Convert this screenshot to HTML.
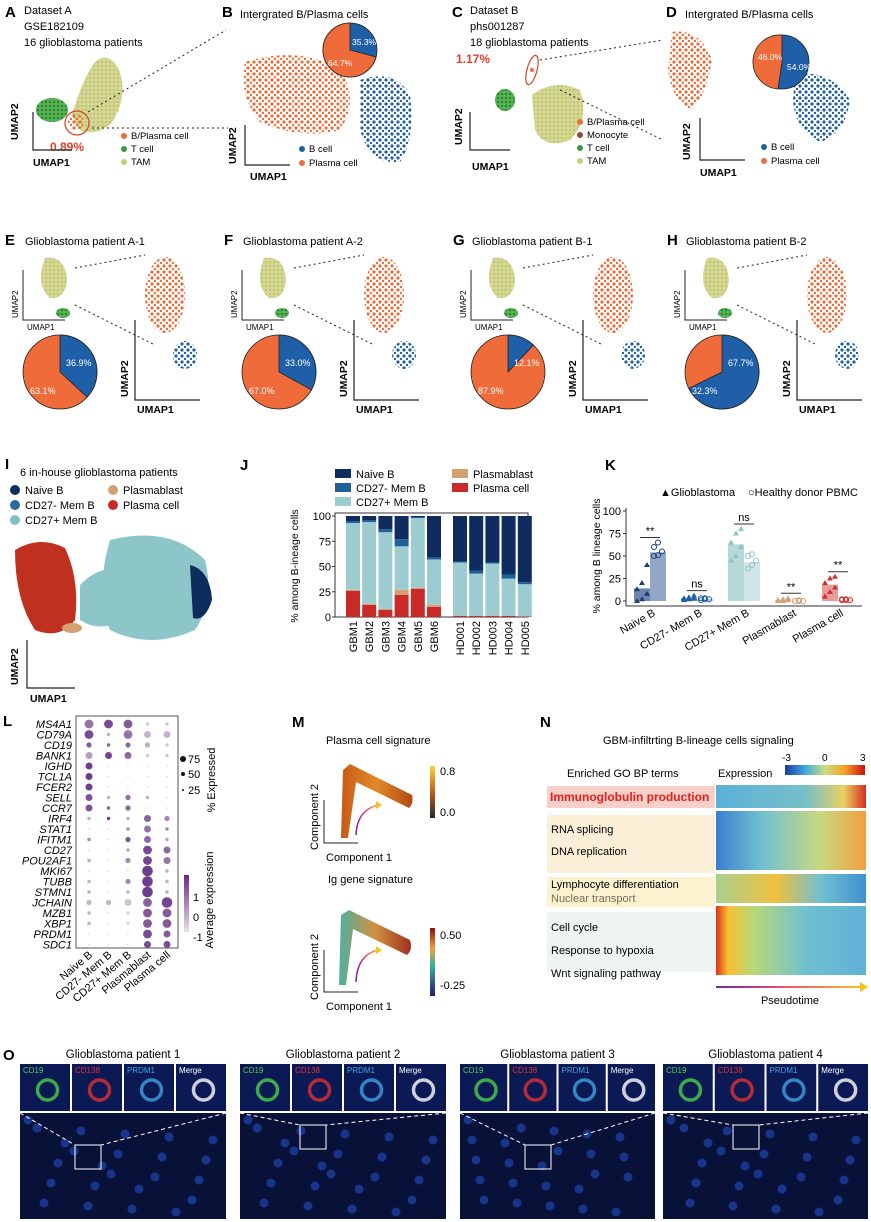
<!DOCTYPE html>
<html><head><meta charset="utf-8">
<style>
html,body{margin:0;padding:0;background:#fff;}
svg{display:block;font-family:"Liberation Sans",Arial,sans-serif;}
</style></head>
<body>
<svg id="fig" width="871" height="1222" viewBox="0 0 871 1222">
<defs>
<pattern id="pO" width="6" height="6" patternUnits="userSpaceOnUse"><circle cx="2" cy="2" r="1.6" fill="#ef6b3a"/><circle cx="5" cy="5" r="1.2" fill="#ef6b3a"/></pattern>
<pattern id="pB" width="6" height="6" patternUnits="userSpaceOnUse"><circle cx="2" cy="2" r="1.6" fill="#1f5fa8"/><circle cx="5" cy="5" r="1.2" fill="#1f5fa8"/></pattern>
<pattern id="pY" width="4" height="4" patternUnits="userSpaceOnUse"><rect width="4" height="4" fill="#d6d89a"/><circle cx="2" cy="2" r="1.3" fill="#c2c66c"/></pattern>
<pattern id="pG" width="4" height="4" patternUnits="userSpaceOnUse"><rect width="4" height="4" fill="#5ab35a"/><circle cx="2" cy="2" r="1.3" fill="#2a8a2a"/></pattern>
<linearGradient id="gOr" x1="0" x2="0" y1="0" y2="1"><stop offset="0" stop-color="#f7d23a"/><stop offset="0.5" stop-color="#c0601a"/><stop offset="1" stop-color="#1e2a28"/></linearGradient>
<linearGradient id="gIg" x1="0" x2="0" y1="0" y2="1"><stop offset="0" stop-color="#8a1010"/><stop offset="0.3" stop-color="#f0a030"/><stop offset="0.55" stop-color="#3ab0a0"/><stop offset="1" stop-color="#2a1a6a"/></linearGradient>
<linearGradient id="gTr" x1="0" x2="1"><stop offset="0" stop-color="#c85a18"/><stop offset="0.5" stop-color="#e08a28"/><stop offset="1" stop-color="#b04a10"/></linearGradient>
<linearGradient id="gTr2" x1="0" x2="1"><stop offset="0" stop-color="#50b0a0"/><stop offset="0.5" stop-color="#d09040"/><stop offset="1" stop-color="#a03020"/></linearGradient>
<linearGradient id="gEx" x1="0" x2="1"><stop offset="0" stop-color="#1a3a9a"/><stop offset="0.25" stop-color="#40a8e0"/><stop offset="0.5" stop-color="#c8e080"/><stop offset="0.75" stop-color="#f8a020"/><stop offset="1" stop-color="#c81010"/></linearGradient>
<linearGradient id="gPt" x1="0" x2="1"><stop offset="0" stop-color="#6a2aa0"/><stop offset="0.4" stop-color="#e84080"/><stop offset="1" stop-color="#f8c020"/></linearGradient>
<linearGradient id="h1" x1="0" x2="1"><stop offset="0" stop-color="#5ab0d8"/><stop offset="0.6" stop-color="#78c0c8"/><stop offset="0.85" stop-color="#e8d060"/><stop offset="1" stop-color="#d83020"/></linearGradient>
<linearGradient id="h2" x1="0" x2="1"><stop offset="0" stop-color="#3a80d0"/><stop offset="0.3" stop-color="#70c0d0"/><stop offset="0.7" stop-color="#c8d880"/><stop offset="1" stop-color="#f0a040"/></linearGradient>
<linearGradient id="h3" x1="0" x2="1"><stop offset="0" stop-color="#a8d090"/><stop offset="0.4" stop-color="#f0c040"/><stop offset="0.7" stop-color="#70c0d0"/><stop offset="1" stop-color="#4090d0"/></linearGradient>
<linearGradient id="h4" x1="0" x2="1"><stop offset="0" stop-color="#e03018"/><stop offset="0.08" stop-color="#f8c030"/><stop offset="0.25" stop-color="#b8d878"/><stop offset="0.6" stop-color="#70c0d0"/><stop offset="1" stop-color="#60b0d8"/></linearGradient>
<linearGradient id="bar" x1="0" x2="0" y1="1" y2="0"><stop offset="0" stop-color="#e8e0ea"/><stop offset="1" stop-color="#6a2a8a"/></linearGradient>
</defs>

<!-- ROW 1 -->
<g>
<text x="5" y="17" font-size="15" font-weight="bold">A</text>
<text font-size="11" x="24" y="14">Dataset A</text><text font-size="11" x="24" y="30">GSE182109</text><text font-size="11" x="24" y="46">16 glioblastoma patients</text>
<ellipse cx="52" cy="110" rx="16" ry="12" fill="url(#pG)"/>
<path d="M72 115 Q82 80 95 62 Q110 50 120 72 Q128 100 110 125 Q90 138 78 128 Z" fill="url(#pY)"/>
<ellipse cx="76" cy="122" rx="8" ry="8" fill="url(#pO)"/>
<ellipse cx="77" cy="123" rx="12" ry="12" fill="none" stroke="#d8402a" stroke-width="1.2"/>
<text x="50" y="151" fill="#e0402a" font-size="12" font-weight="bold">0.89%</text>
<path d="M33 112 V150 H72" fill="none" stroke="#222" stroke-width="1.2"/>
<text x="18" y="140" font-size="10.5" transform="rotate(-90 18 140)" font-weight="bold">UMAP2</text>
<text x="33" y="166" font-size="10.5" font-weight="bold">UMAP1</text>
<circle cx="124" cy="136" r="3" fill="#ef6b3a"/><text font-size="9.5" x="131" y="139">B/Plasma cell</text>
<circle cx="124" cy="149" r="3" fill="#3a9a3a"/><text font-size="9.5" x="131" y="152">T cell</text>
<circle cx="124" cy="162" r="3" fill="#c9cd7e"/><text font-size="9.5" x="131" y="165">TAM</text>
<line x1="88" y1="112" x2="226" y2="30" stroke="#222" stroke-dasharray="2,3"/>
<line x1="92" y1="128" x2="228" y2="128" stroke="#222" stroke-dasharray="2,3"/>
</g>
<g>
<text x="222" y="17" font-size="15" font-weight="bold">B</text>
<text font-size="11" x="240" y="18">Intergrated B/Plasma cells</text>
<path d="M245 62 Q300 45 340 70 Q360 100 340 130 Q300 140 260 122 Q238 95 245 62Z" fill="url(#pO)"/>
<path d="M360 80 Q395 68 410 95 Q415 140 400 162 Q370 165 360 130Z" fill="url(#pB)"/>
<circle cx="350" cy="50" r="27" fill="#1f5fa8" stroke="#222" stroke-width="0.8"/>
<path d="M350 50 V23 A27 27 0 1 0 376 57 Z" fill="#ef6b3a" stroke="#222" stroke-width="0.8"/>
<text x="352" y="45" fill="#fff" font-size="8.5">35.3%</text><text x="328" y="66" fill="#fff" font-size="8.5">64.7%</text>
<path d="M245 125 V165 H290" fill="none" stroke="#222" stroke-width="1.2"/>
<text x="236" y="164" font-size="10.5" transform="rotate(-90 236 164)" font-weight="bold">UMAP2</text>
<text x="250" y="180" font-size="10.5" font-weight="bold">UMAP1</text>
<circle cx="302" cy="149" r="3" fill="#1f5fa8"/><text font-size="9.5" x="309" y="152">B cell</text>
<circle cx="302" cy="163" r="3" fill="#ef6b3a"/><text font-size="9.5" x="309" y="166">Plasma cell</text>
</g>
<g>
<text x="452" y="17" font-size="15" font-weight="bold">C</text>
<text font-size="11" x="470" y="14">Dataset B</text><text font-size="11" x="470" y="30">phs001287</text><text font-size="11" x="470" y="46">18 glioblastoma patients</text>
<text x="456" y="63" fill="#e0402a" font-size="12" font-weight="bold">1.17%</text>
<ellipse cx="532" cy="70" rx="5" ry="15" fill="none" stroke="#d8402a" stroke-width="1.2" transform="rotate(15 532 70)"/>
<circle cx="532" cy="70" r="2" fill="#ef6b3a"/>
<ellipse cx="505" cy="100" rx="10" ry="11" fill="url(#pG)"/>
<path d="M532 95 Q555 78 580 90 Q590 120 570 140 Q545 150 535 130Z" fill="url(#pY)"/>
<path d="M470 112 V150 H510" fill="none" stroke="#222" stroke-width="1.2"/>
<text x="462" y="145" font-size="10.5" transform="rotate(-90 462 145)" font-weight="bold">UMAP2</text>
<text x="472" y="170" font-size="10.5" font-weight="bold">UMAP1</text>
<circle cx="580" cy="122" r="3" fill="#ef6b3a"/><text font-size="9.5" x="587" y="125">B/Plasma cell</text>
<circle cx="580" cy="135" r="3" fill="#8a5030"/><text font-size="9.5" x="587" y="138">Monocyte</text>
<circle cx="580" cy="148" r="3" fill="#3a9a3a"/><text font-size="9.5" x="587" y="151">T cell</text>
<circle cx="580" cy="161" r="3" fill="#c9cd7e"/><text font-size="9.5" x="587" y="164">TAM</text>
<line x1="540" y1="60" x2="663" y2="40" stroke="#222" stroke-dasharray="2,3"/>
<line x1="560" y1="90" x2="663" y2="140" stroke="#222" stroke-dasharray="2,3"/>
</g>
<g>
<text x="666" y="17" font-size="15" font-weight="bold">D</text>
<text font-size="11" x="685" y="18">Intergrated B/Plasma cells</text>
<path d="M672 32 Q700 28 712 60 Q705 100 690 110 Q672 100 668 70Z" fill="url(#pO)"/>
<path d="M795 75 Q830 68 850 100 Q845 135 820 142 Q795 130 793 100Z" fill="url(#pB)"/>
<circle cx="782" cy="62" r="27" fill="#1f5fa8" stroke="#222" stroke-width="0.8"/>
<path d="M782 62 V35 A27 27 0 0 0 778 89 Z" fill="#ef6b3a" stroke="#222" stroke-width="0.8"/>
<text x="758" y="60" fill="#fff" font-size="8.5">46.0%</text><text x="787" y="70" fill="#fff" font-size="8.5">54.0%</text>
<path d="M700 118 V160 H745" fill="none" stroke="#222" stroke-width="1.2"/>
<text x="690" y="160" font-size="10.5" transform="rotate(-90 690 160)" font-weight="bold">UMAP2</text>
<text x="700" y="176" font-size="10.5" font-weight="bold">UMAP1</text>
<circle cx="764" cy="147" r="3" fill="#1f5fa8"/><text font-size="9.5" x="771" y="150">B cell</text>
<circle cx="764" cy="161" r="3" fill="#ef6b3a"/><text font-size="9.5" x="771" y="164">Plasma cell</text>
</g>

<!-- ROW 2 -->
<g id="row2">
<text x="5" y="245" font-size="15" font-weight="bold">E</text><text font-size="11" x="25" y="245">Glioblastoma patient A-1</text>
<text x="224" y="245" font-size="15" font-weight="bold">F</text><text font-size="11" x="243" y="245">Glioblastoma patient A-2</text>
<text x="453" y="245" font-size="15" font-weight="bold">G</text><text font-size="11" x="472" y="245">Glioblastoma patient B-1</text>
<text x="667" y="245" font-size="15" font-weight="bold">H</text><text font-size="11" x="686" y="245">Glioblastoma patient B-2</text>
</g>

<!-- ROW 3 -->
<g>
<text x="5" y="469" font-size="15" font-weight="bold">I</text>
<text font-size="11" x="20" y="476">6 in-house glioblastoma patients</text>
<circle cx="15" cy="490" r="5" fill="#0e2d5e"/><text font-size="11" x="25" y="494">Naive B</text>
<circle cx="113" cy="490" r="5" fill="#d4a070"/><text font-size="11" x="123" y="494">Plasmablast</text>
<circle cx="15" cy="505" r="5" fill="#2a6aa0"/><text font-size="11" x="25" y="509">CD27- Mem B</text>
<circle cx="113" cy="505" r="5" fill="#c82a2a"/><text font-size="11" x="123" y="509">Plasma cell</text>
<circle cx="15" cy="520" r="5" fill="#7fc0c4"/><text font-size="11" x="25" y="524">CD27+ Mem B</text>
<path d="M15 550 Q40 535 65 548 Q80 580 75 620 Q60 640 35 630 Q15 600 15 550Z" fill="#c0301e"/>
<path d="M110 540 Q170 525 205 560 Q215 600 195 630 Q150 650 110 630 Q95 590 110 540Z" fill="#8cc6c8"/>
<path d="M80 585 Q100 565 115 572 L112 625 Q95 630 80 620Z" fill="#8cc6c8"/>
<path d="M190 565 Q210 570 212 600 Q205 622 193 618Z" fill="#0e2d5e"/>
<ellipse cx="72" cy="628" rx="10" ry="5" fill="#d4a070"/>
<path d="M27 640 V688 H75" fill="none" stroke="#222" stroke-width="1.2"/>
<text x="18" y="685" font-size="10.5" transform="rotate(-90 18 685)" font-weight="bold">UMAP2</text>
<text x="30" y="702" font-size="10.5" font-weight="bold">UMAP1</text>
</g>
<g id="panelJ"><text x="240" y="470" font-size="15" font-weight="bold">J</text></g>
<g id="panelK"><text x="605" y="470" font-size="15" font-weight="bold">K</text></g>

<!-- ROW 4 -->
<g id="panelL"><text x="3" y="726" font-size="15" font-weight="bold">L</text></g>

<g>
<text x="292" y="727" font-size="15" font-weight="bold">M</text>
<text font-size="11" x="326" y="744">Plasma cell signature</text>
<path d="M341 838 L343 770 L350 764 L412 795 Q414 803 409 808 L356 782 L348 838Z" fill="url(#gTr)"/>
<path d="M356 835 Q357 810 378 805" fill="none" stroke="url(#gPt)" stroke-width="1.5"/>
<path d="M376 801 L382 805 L376 809Z" fill="#f8c020"/>
<rect x="430" y="766" width="5" height="52" fill="url(#gOr)"/>
<text font-size="11" x="440" y="775">0.8</text><text font-size="11" x="440" y="816">0.0</text>
<path d="M324 800 V843 H358" fill="none" stroke="#222"/>
<text font-size="11" x="318" y="850" transform="rotate(-90 318 850)">Component 2</text>
<text font-size="11" x="326" y="861">Component 1</text>
<text font-size="11" x="328" y="883">Ig gene signature</text>
<path d="M339 985 L341 915 L349 910 L410 940 Q413 950 407 955 L353 929 L346 985Z" fill="url(#gTr2)"/>
<path d="M356 982 Q357 955 378 950" fill="none" stroke="url(#gPt)" stroke-width="1.5"/>
<path d="M376 946 L382 950 L376 954Z" fill="#f8c020"/>
<rect x="430" y="928" width="5" height="68" fill="url(#gIg)"/>
<text font-size="11" x="440" y="939">0.50</text><text font-size="11" x="440" y="989">-0.25</text>
<path d="M324 950 V992 H358" fill="none" stroke="#222"/>
<text font-size="11" x="318" y="1000" transform="rotate(-90 318 1000)">Component 2</text>
<text font-size="11" x="326" y="1010">Component 1</text>
</g>

<g>
<text x="540" y="727" font-size="15" font-weight="bold">N</text>
<text font-size="11" x="603" y="744">GBM-infiltrting B-lineage cells signaling</text>
<text font-size="11" x="567" y="777">Enriched GO BP terms</text>
<text font-size="11" x="718" y="777">Expression</text>
<rect x="785" y="765" width="80" height="10" fill="url(#gEx)"/>
<text font-size="10" x="782" y="761">-3</text><text font-size="10" x="822" y="761">0</text><text font-size="10" x="860" y="761">3</text>
<rect x="547" y="786" width="168" height="22" fill="#f8d0c8"/>
<rect x="547" y="815" width="168" height="58" fill="#fbefd8"/>
<rect x="547" y="877" width="168" height="30" fill="#fbf2d0"/>
<rect x="547" y="912" width="168" height="60" fill="#eef3f3"/>
<rect x="716" y="785" width="150" height="23" fill="url(#h1)"/>
<rect x="716" y="811" width="150" height="59" fill="url(#h2)"/>
<rect x="716" y="874" width="150" height="29" fill="url(#h3)"/>
<rect x="716" y="906" width="150" height="69" fill="url(#h4)"/>
<text x="550" y="801" fill="#e02020" font-size="12" font-weight="bold">Immunoglobulin production</text>
<text font-size="11" x="551" y="833">RNA splicing</text>
<text font-size="11" x="551" y="855">DNA replication</text>
<text font-size="11" x="551" y="888">Lymphocyte differentiation</text>
<text font-size="11" x="551" y="902" fill="#7a6a50">Nuclear transport</text>
<text font-size="11" x="551" y="931">Cell cycle</text>
<text font-size="11" x="551" y="954">Response to hypoxia</text>
<text font-size="11" x="551" y="977">Wnt signaling pathway</text>
<rect x="716" y="986" width="145" height="2" fill="url(#gPt)"/>
<path d="M860 982 L868 987 L860 992Z" fill="#f8c020"/>
<text font-size="11" x="790" y="1004" text-anchor="middle">Pseudotime</text>
</g>

<g id="panelO"><text x="3" y="1060" font-size="15" font-weight="bold">O</text></g>
</svg>

<script>
var NS="http://www.w3.org/2000/svg";
function mk(p,tag,at,txt){var e=document.createElementNS(NS,tag);for(var k in at)e.setAttribute(k,at[k]);if(txt!==undefined)e.textContent=txt;p.appendChild(e);return e;}

/* Row 2 pies */
var pieLabelsBig=["63.1%","67.0%","87.9%","32.3%"];
var pieLabelsSmall=["36.9%","33.0%","12.1%","67.7%"];
var pieBlueFrac=[0.369,0.33,0.121,0.677];
(function(){
var g=document.getElementById('row2');
var xs=[5,224,453,667];
for(var i=0;i<4;i++){
 var x=xs[i];
 var p=mk(g,'g',{});
 
 
 mk(p,'path',{d:'M'+(x+40)+' 258 Q'+(x+60)+' 255 '+(x+62)+' 280 Q'+(x+60)+' 300 '+(x+45)+' 298 Q'+(x+30)+' 285 '+(x+40)+' 258Z',fill:'url(#pY)'});
 mk(p,'ellipse',{cx:x+58,cy:313,rx:7,ry:5,fill:'url(#pG)'});
 mk(p,'path',{d:'M'+(x+18)+' 270 V320 H'+(x+60),fill:'none',stroke:'#222'});
 mk(p,'text',{x:x+13,y:318,'font-size':8,transform:'rotate(-90 '+(x+13)+' 318)'},'UMAP2');
 mk(p,'text',{x:x+22,y:330,'font-size':8},'UMAP1');
 mk(p,'ellipse',{cx:x+160,cy:295,rx:20,ry:38,fill:'url(#pO)'});
 mk(p,'ellipse',{cx:x+180,cy:355,rx:12,ry:14,fill:'url(#pB)'});
 mk(p,'path',{d:'M'+(x+130)+' 320 V400 H'+(x+195),fill:'none',stroke:'#222','stroke-width':1.2});
 mk(p,'text',{x:x+123,y:397,'font-size':10.5,'font-weight':'bold',transform:'rotate(-90 '+(x+123)+' 397)'},'UMAP2');
 mk(p,'text',{x:x+132,y:413,'font-size':10.5,'font-weight':'bold'},'UMAP1');
 mk(p,'line',{x1:x+70,y1:268,x2:x+140,y2:255,stroke:'#222','stroke-dasharray':'2,3'});
 mk(p,'line',{x1:x+70,y1:305,x2:x+150,y2:345,stroke:'#222','stroke-dasharray':'2,3'});
 var cx=x+55,cy=372,r=37,f=pieBlueFrac[i];
 mk(p,'circle',{cx:cx,cy:cy,r:r,fill:'#ef6b3a',stroke:'#222','stroke-width':0.8});
 var a=f*2*Math.PI,ex=cx+r*Math.sin(a),ey=cy-r*Math.cos(a);
 var w=mk(p,'path',{d:'M'+cx+' '+cy+' V'+(cy-r)+' A'+r+' '+r+' 0 '+(f>0.5?1:0)+' 1 '+ex+' '+ey+' Z',fill:'#1f5fa8',stroke:'#222','stroke-width':0.8});
 
 
 mk(p,'text',{x:cx+6,y:cy-6,fill:'#fff','font-size':9},pieLabelsSmall[i]);
 mk(p,'text',{x:cx-30,y:cy+22,fill:'#fff','font-size':9},pieLabelsBig[i]);
}
})();

/* Panel J */
var jCats=["GBM1","GBM2","GBM3","GBM4","GBM5","GBM6","HD001","HD002","HD003","HD004","HD005"];
var jPlasma=[26,12,7,22,28,10,1,1,1,1,0.5];
var jPlasmablast=[1,1,1,5,1,2,0,0,0,0,0];
var jCD27pos=[66,81,76,43,69,45,53,42,52,37,32];
var jCD27neg=[2,2,3,7,1,2,1,3,1,4,2];
var jNaive=[5,4,13,23,1,41,45,54,46,58,65.5];
var jTicks=[0,25,50,75,100];
(function(){
var g=document.getElementById('panelJ');
var L=335,R=528,T=516,B=617;
function y(v){return B-(v/100)*(B-T);}
var cols=['#c82a2a','#d4a070','#9ccbd0','#1f5f9a','#0e2d5e'];
var series=[jPlasma,jPlasmablast,jCD27pos,jCD27neg,jNaive];
var names=['Naive B','CD27- Mem B','CD27+ Mem B'];
var lc=['#0e2d5e','#1f5f9a','#9ccbd0'];
for(var i=0;i<3;i++){var r=mk(g,'rect',{x:335,y:469+i*14,width:16,height:9,fill:lc[i]});mk(g,'text',{x:356,y:478+i*14,'font-size':11},names[i]);}
mk(g,'rect',{x:452,y:469,width:16,height:9,fill:'#d4a070'});mk(g,'text',{x:473,y:478,'font-size':11},'Plasmablast');
mk(g,'rect',{x:452,y:483,width:16,height:9,fill:'#c82a2a'});mk(g,'text',{x:473,y:492,'font-size':11},'Plasma cell');
mk(g,'rect',{x:L,y:T-3,width:R-L,height:B-T+3,fill:'none',stroke:'#333'});
jTicks.forEach(function(t){mk(g,'text',{x:L-4,y:y(t)+4,'font-size':11,'text-anchor':'end'},t);mk(g,'line',{x1:L-3,x2:L,y1:y(t),y2:y(t),stroke:'#333'});});
var yl=mk(g,'text',{x:298,y:566,'font-size':10.5,'text-anchor':'middle',transform:'rotate(-90 298 566)'},'% among B-ineage cells');

mk(g,'line',{x1:437,x2:437,y1:T,y2:B,stroke:'#333','stroke-dasharray':'4,3'});
var bw=14;
jCats.forEach(function(c,i){
 var cx=i<6?L+18+i*16.2:L+125+(i-6)*16.2;
 var acc=0;
 for(var s=0;s<5;s++){var v=series[s][i];var r=mk(g,'rect',{x:cx-bw/2,y:y(acc+v),width:bw,height:y(acc)-y(acc+v),fill:cols[s]});
  acc+=v;}
 var tx=mk(g,'text',{x:cx+4,y:B+4,'font-size':11,'text-anchor':'end',transform:'rotate(-90 '+(cx+4)+' '+(B+4)+')'},c);
 
});
})();

/* Panel K */
var kCats=["Naive B","CD27- Mem B","CD27+ Mem B","Plasmablast","Plasma cell"];
var kGbmMean=[14,3,63,1,18];
var kHdMean=[54,2,43,0.5,1.5];
var kGbmPts=[[0,2,8,13,20,40],[1,2,3,3,4,6],[45,50,60,65,75,80],[0,0,1,1,2,3],[5,10,15,20,25,27]];
var kHdPts=[[50,51,55,60,65],[1,2,2,3,3],[36,40,45,50,52],[0,0,0,0,1],[1,1,1,2,2]];
var kSig=["**","ns","ns","**","**"];
var kTicks=[0,25,50,75,100];
(function(){
var g=document.getElementById('panelK');
var L=626,R=862,T=511,B=601;
function y(v){return B-(v/100)*(B-T);}
var dark=['#1d3f74','#1f5f9a','#8fc3c6','#d4a070','#d03030'];
var fillG=['#5670a0','#4a7ab0','#aad2d4','#e8c8a0','#e88888'];
var fillH=['#7f97bd','#9ab8d8','#c8e0e2','#f2dcc4','#f4c0c0'];
mk(g,'text',{x:660,y:496,'font-size':11},'▲Glioblastoma');
mk(g,'text',{x:748,y:496,'font-size':11},'○Healthy donor PBMC');
mk(g,'line',{x1:L,x2:L,y1:T-3,y2:B+5,stroke:'#333'});
mk(g,'line',{x1:L,x2:R,y1:B+5,y2:B+5,stroke:'#333'});
kTicks.forEach(function(t){mk(g,'text',{x:L-5,y:y(t)+4,'font-size':11,'text-anchor':'end'},t);mk(g,'line',{x1:L-3,x2:L,y1:y(t),y2:y(t),stroke:'#333'});});
var yl=mk(g,'text',{x:600,y:556,'font-size':10.5,'text-anchor':'middle',transform:'rotate(-90 600 556)'},'% among B lineage cells');

kCats.forEach(function(c,i){
 var cx=L+24+i*47;
 var b1=mk(g,'rect',{x:cx-16,y:y(kGbmMean[i]),width:16,height:B-y(kGbmMean[i]),fill:fillG[i],opacity:0.85});
 
 var b2=mk(g,'rect',{x:cx,y:y(kHdMean[i]),width:16,height:B-y(kHdMean[i]),fill:fillH[i],opacity:0.85});
 
 kGbmPts[i].forEach(function(v,j){var px=cx-13+(j%3)*5,py=y(v);var p=mk(g,'path',{d:'M'+px+' '+(py-3)+' l3 5 h-6z',fill:dark[i]});});
 kHdPts[i].forEach(function(v,j){var p=mk(g,'circle',{cx:cx+4+(j%3)*4,cy:y(v),r:2.5,fill:'none',stroke:dark[i]});});
 var top=Math.max.apply(null,kGbmPts[i].concat(kHdPts[i]));
 mk(g,'line',{x1:cx-10,x2:cx+10,y1:y(top)-5,y2:y(top)-5,stroke:'#333'});
 mk(g,'text',{x:cx,y:y(top)-8,'font-size':11,'text-anchor':'middle'},kSig[i]);
 var tx=mk(g,'text',{x:cx+6,y:B+14,'font-size':11,'text-anchor':'end',transform:'rotate(-30 '+(cx+6)+' '+(B+14)+')'},c);
 
});
})();

/* Panel L */
var lGenes=["MS4A1","CD79A","CD19","BANK1","IGHD","TCL1A","FCER2","SELL","CCR7","IRF4","STAT1","IFITM1","CD27","POU2AF1","MKI67","TUBB","STMN1","JCHAIN","MZB1","XBP1","PRDM1","SDC1"];
var lGroups=["Naive B","CD27- Mem B","CD27+ Mem B","Plasmablast","Plasma cell"];
var lSize=[[4,4,4,1,1],[4,1,4,3,3],[2,1,2,2,1],[3,3,3,1,1],[3,0,0,0,0],[3,0,0,0,0],[3,0,0,0,0],[3,1,2,1,0],[3,1,2,0,0],[1,1,1,3,2],[0,0,1,3,1],[1,0,2,3,1],[0,0,1,4,3],[1,0,2,4,3],[0,0,0,5,1],[1,0,2,5,1],[1,0,1,5,1],[2,2,3,4,5],[1,0,1,4,4],[1,0,1,4,4],[0,0,0,4,3],[0,0,0,3,3]];
var lColor=[[0.3,0.8,0.6,-0.8,-0.8],[0.8,-0.5,0.3,-0.6,-0.6],[0.6,0.5,0.4,-0.5,-0.8],[-0.3,0.9,0.4,-0.8,-0.8],[1,-1,-1,-1,-1],[1,-1,-1,-1,-1],[1,-1,-1,-1,-1],[0.7,-0.5,0.4,-0.5,-1],[0.7,0.5,0.5,-1,-1],[-0.5,1,-0.5,0.5,0],[-1,-1,0,0.3,0],[0,-1,0.7,0.4,-0.3],[-1,-1,-0.3,0.8,0.4],[-0.5,-1,0,0.9,0.3],[-1,-1,-1,1,-0.5],[-0.5,-1,0,1,-0.5],[-0.5,-1,-0.5,1,-0.5],[-0.6,-0.6,-0.8,0.5,0.9],[-0.5,-1,-1,0.6,0.6],[-0.5,-1,-1,0.6,0.6],[-1,-1,-1,0.8,0.6],[-1,-1,-1,0.8,0.8]];
(function(){
var g=document.getElementById('panelL');
var L=76,R=178,T=716,B=948;
mk(g,'rect',{x:L,y:T,width:R-L,height:B-T,fill:'none',stroke:'#555'});
function col(v){var t=(v+1)/2;var r=Math.round(220-t*110),gg=Math.round(210-t*150),b=Math.round(220-t*80);return 'rgb('+r+','+gg+','+b+')';}
lGenes.forEach(function(gn,i){
 var yy=T+8+i*10.5;
 var t=mk(g,'text',{x:L-4,y:yy+4,'font-size':11,'font-style':'italic','text-anchor':'end'},gn);
 
 lGroups.forEach(function(gr,j){
  var s=lSize[i][j];var c=mk(g,'circle',{cx:L+13+j*19.5,cy:yy,r:s===0?0.8:0.8+s*0.9,fill:col(lColor[i][j])});
  
 });
});
lGroups.forEach(function(gr,j){var x=L+17+j*19.5;var t=mk(g,'text',{x:x,y:B+8,'font-size':11,'text-anchor':'end',transform:'rotate(-40 '+x+' '+(B+8)+')'},gr);});
mk(g,'circle',{cx:183,cy:759,r:3,fill:'#111'});mk(g,'text',{x:188,y:763,'font-size':11},'75');
mk(g,'circle',{cx:183,cy:774,r:2,fill:'#111'});mk(g,'text',{x:188,y:778,'font-size':11},'50');
mk(g,'circle',{cx:183,cy:790,r:1,fill:'#111'});mk(g,'text',{x:188,y:794,'font-size':11},'25');
mk(g,'text',{x:215,y:780,'font-size':11,'text-anchor':'middle',transform:'rotate(-90 215 780)'},'% Expressed');
mk(g,'rect',{x:184,y:875,width:5,height:57,fill:'url(#bar)'});
mk(g,'text',{x:193,y:901,'font-size':11},'1');mk(g,'text',{x:193,y:921,'font-size':11},'0');mk(g,'text',{x:193,y:941,'font-size':11},'-1');
mk(g,'text',{x:213,y:900,'font-size':11,'text-anchor':'middle',transform:'rotate(-90 213 900)'},'Average expression');
})();

/* Panel O */
(function(){
var g=document.getElementById('panelO');
var titles=["Glioblastoma patient 1","Glioblastoma patient 2","Glioblastoma patient 3","Glioblastoma patient 4"];
var xs=[20,240,460,663];var ws=[206,206,195,205];
var chan=["CD19","CD138","PRDM1","Merge"];var cc=["#4ad04a","#e03030","#40a0e0","#ffffff"];
for(var i=0;i<4;i++){
 var x=xs[i],w=ws[i];
 var t=mk(g,'text',{x:x+w/2,y:1058,'font-size':11.5,'text-anchor':'middle'},titles[i]);
 
 var sw=(w-6)/4;
 for(var j=0;j<4;j++){
  var r=mk(g,'rect',{x:x+j*(sw+2),y:1064,width:sw,height:47,fill:'#0b1a55'});
  
  mk(g,'circle',{cx:x+j*(sw+2)+sw*0.55,cy:1090,r:10,fill:'none',stroke:cc[j],'stroke-width':3.5,opacity:0.8});
  mk(g,'text',{x:x+j*(sw+2)+3,y:1073,'font-size':8,fill:cc[j]},chan[j]);
 }
 var big=mk(g,'rect',{x:x,y:1113,width:w,height:106,fill:'#081238'});
 
 for(var k=0;k<24;k++){mk(g,'circle',{cx:x+8+(k*37)%(w-14),cy:1120+(k*23)%95,r:4.5,fill:'#1e3fa0',opacity:0.8});}
 var bx=x+55+i*5,by=1145-(i%2)*20;
 mk(g,'rect',{x:bx,y:by,width:26,height:24,fill:'none',stroke:'#fff'});
 mk(g,'line',{x1:x,y1:1113,x2:bx,y2:by,stroke:'#fff','stroke-dasharray':'4,3'});
 mk(g,'line',{x1:x+w,y1:1113,x2:bx+26,y2:by,stroke:'#fff','stroke-dasharray':'4,3'});
}
})();
</script>
</body></html>
